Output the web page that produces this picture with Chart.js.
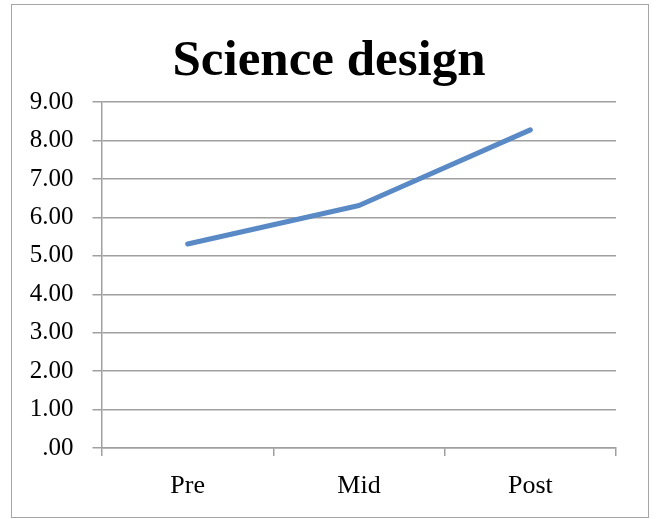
<!DOCTYPE html>
<html>
<head>
<meta charset="utf-8">
<script src="https://cdn.jsdelivr.net/npm/chart.js@4"></script>
<style>
html,body{margin:0;padding:0;background:#fff;}
#wrap{position:absolute;left:0;top:0;width:658px;height:519px;}
#frame{position:absolute;left:11px;top:4px;width:638px;height:514px;border:1.5px solid #a6a6a6;box-sizing:border-box;pointer-events:none;}
</style>
</head>
<body>
<div id="wrap"><canvas id="chart" width="658" height="519"></canvas></div>
<div id="frame"></div>
<script>
const categories = ['Pre','Mid','Post'];
const scores = [5.31, 6.31, 8.28];
const yTicks = [0,1,2,3,4,5,6,7,8,9];

const serif = '"Liberation Serif", "DejaVu Serif", serif';
const gridGray = '#a0a0a0';

new Chart(document.getElementById('chart'),{

type:'line',

data:{
labels:categories,
datasets:[{
label:'Science design',
data:scores,
borderColor:'#5a8ac6',
borderWidth:5,
borderCapStyle:'round',
borderJoinStyle:'round',
pointRadius:0,
tension:0
}]
},

options:{
responsive:false,
animation:false,
layout:{padding:0},
plugins:{
legend:{display:false},
tooltip:{enabled:false},
title:{
display:true,
text:'Science design',
color:'#000',
font:{family:serif,size:51,weight:'bold',lineHeight:1.2},
padding:{top:31,bottom:10}
}
},
scales:{
x:{
offset:true,
grid:{offset:true,drawOnChartArea:false,color:gridGray,lineWidth:1.5,tickLength:8},
border:{color:gridGray,width:1.5},
ticks:{color:'#000',font:{family:serif,size:26},padding:15},
afterFit:s=>{s.height=71;}
},
y:{
min:0,
max:9,
afterBuildTicks:s=>{s.ticks=yTicks.map(v=>({value:v}));},
grid:{color:gridGray,lineWidth:1.5,tickLength:9.5},
border:{color:gridGray,width:1.5},
ticks:{
color:'#000',
font:{family:serif,size:25},
padding:19,
callback:v=>v===0?'.00':v.toFixed(2)
},
afterFit:s=>{s.width=102;}
},
// empty right-hand margin so the title centres on the whole frame
spacer:{
position:'right',
grid:{display:false},
border:{display:false},
ticks:{display:false},
afterFit:s=>{s.width=42;}
}
}
}

});
</script>
</body>
</html>
